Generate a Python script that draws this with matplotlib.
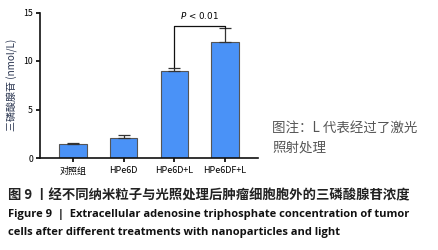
import matplotlib
matplotlib.use("Agg")
import matplotlib.pyplot as plt

categories = ["对照组", "HPe6D", "HPe6D+L", "HPe6DF+L"]
values = [1.4, 2.1, 9.0, 12.0]
errors = [0.17, 0.3, 0.3, 1.4]
yticks = [0, 5, 10, 15]
ylabel = "三磷酸腺苷 (nmol/L)"
sig_text = "P < 0.01"
note_lines = ["图注：L 代表经过了激光", "照射处理"]
cap_cn = "图 9 丨经不同纳米粒子与光照处理后肿瘤细胞胞外的三磷酸腺苷浓度"
cap_en1 = "Figure 9  |  Extracellular adenosine triphosphate concentration of tumor"
cap_en2 = "cells after different treatments with nanoparticles and light"

plt.rcParams['font.family'] = ['Noto Sans CJK SC', 'DejaVu Sans']

W, H = 439, 250
fig = plt.figure(figsize=(W / 100, H / 100), dpi=100)
# axes: x 40..258 px, y 12.5..158 px (top-origin)
ax = fig.add_axes([40 / W, 1 - 158 / H, (258 - 40) / W, (158 - 12.5) / H])

x = list(range(len(categories)))
ax.bar(x, values, width=0.54, color="#4a92f7", edgecolor="#555555", linewidth=0.8, zorder=2)
ax.errorbar(x, values, yerr=[[0] * len(errors), errors], fmt="none", ecolor="#333333",
            elinewidth=0.9, capsize=4, capthick=0.9, zorder=3)

ax.set_xlim(-0.65, 3.65)
ax.set_ylim(0, 15)
ax.set_yticks(yticks)
ax.set_xticks(x)
ax.set_xticklabels(categories, fontsize=6.5, family=['Noto Sans CJK SC', 'DejaVu Sans'])
ax.tick_params(axis='y', labelsize=6.3, length=3, width=1.2, direction='out', pad=2)
ax.tick_params(axis='x', length=3, width=1.2, direction='out', pad=3)
for s in ["top", "right"]:
    ax.spines[s].set_visible(False)
for s in ["left", "bottom"]:
    ax.spines[s].set_linewidth(1.2)
    ax.spines[s].set_color("#111111")
ax.set_ylabel(ylabel, fontsize=7.2, labelpad=4, color="#2a3550")

# significance bracket
ytop = 13.6
ax.plot([2, 2, 3, 3], [9.4, ytop, ytop, 13.4], color="#111111", lw=0.9, zorder=4, clip_on=False)
ax.text(2.5, ytop + 0.5, "$\\it{P}$ < 0.01", ha="center", va="bottom", fontsize=6.3,
        family=['DejaVu Sans'])

# note
fig.text(272 / W, 1 - 128 / H, note_lines[0], fontsize=9.7, color="#555555", va="center", ha="left")
fig.text(272 / W, 1 - 148 / H, note_lines[1], fontsize=9.7, color="#555555", va="center", ha="left")

# captions
fig.text(8 / W, 1 - 195 / H, cap_cn, fontsize=9.6, color="#222222", va="center", ha="left",
         fontweight="bold")
fig.text(8 / W, 1 - 214 / H, cap_en1, fontsize=8.0, color="#111111", va="center", ha="left",
         fontweight="bold", family=["Open Sans", "DejaVu Sans"])
fig.text(8 / W, 1 - 233 / H, cap_en2, fontsize=8.0, color="#111111", va="center", ha="left",
         fontweight="bold", family=["Open Sans", "DejaVu Sans"])

fig.savefig("out.png", dpi=100)
